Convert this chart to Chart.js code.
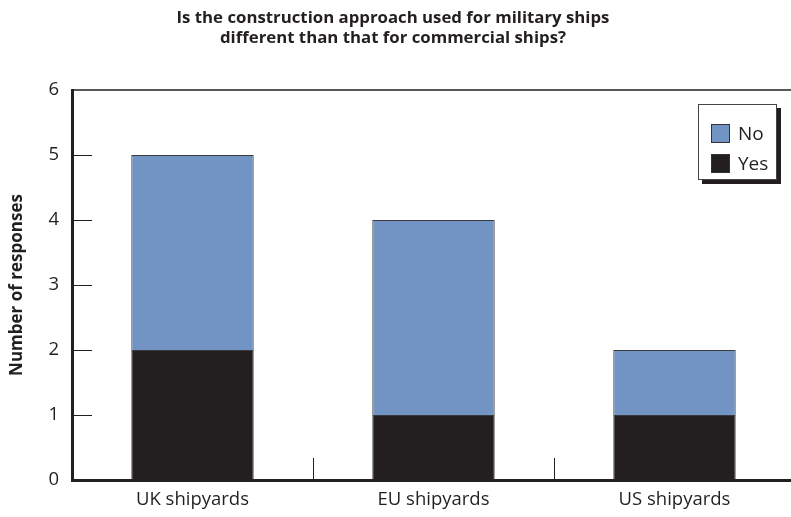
<!DOCTYPE html>
<html>
<head>
<meta charset="utf-8">
<script src="https://cdn.jsdelivr.net/npm/chart.js@4.4.1/dist/chart.umd.min.js"></script>
<style>
  html, body { margin: 0; padding: 0; background: #fff; overflow: hidden; }
  #wrap { position: relative; width: 800px; height: 517px; }
  #title {
    position: absolute; left: 0; top: 7px; width: 786px; text-align: center;
    font-family: "Open Sans", "Noto Sans", sans-serif; font-weight: bold; font-size: 16.8px;
    line-height: 20px; color: #231f20;
  }
  #legendBox {
    position: absolute; left: 698px; top: 104px; width: 79px; height: 76px;
    border: 1px solid #444; background: #fff; box-shadow: 4px 4px 0 #231f20;
    font-family: "Open Sans", "Noto Sans", sans-serif; font-size: 19px; color: #231f20;
    box-sizing: border-box; padding-top: 13px;
  }
  .lg-item { display: flex; align-items: center; height: 30px; padding-left: 12px; }
  .lg-swatch { width: 19px; height: 19px; box-sizing: border-box; border: 1px solid #333; margin-right: 8px; }
</style>
</head>
<body>
<div id="wrap">
  <canvas id="chart" width="800" height="517"></canvas>
  <div id="title">Is the construction approach used for military ships<br>different than that for commercial ships?</div>
  <div id="legendBox"></div>
</div>
<script>
// 資料
const categories = ['UK shipyards', 'EU shipyards', 'US shipyards'];
const yesValues = [2, 1, 1];
const noValues = [3, 3, 1];
const yTicks = [0, 1, 2, 3, 4, 5, 6];

const blueColor = '#7194c4';
const darkColor = '#231f20';
const fontFam = '"Open Sans", "Noto Sans", sans-serif';

// 內側刻度與頂部框線
const innerTicks = {
    id: 'innerTicks',
    afterDatasetsDraw(chart) {
        const { ctx, chartArea, scales } = chart;
        ctx.save();
        ctx.strokeStyle = darkColor;
        // top border
        ctx.lineWidth = 1.5;
        ctx.beginPath();
        ctx.moveTo(chartArea.left, chartArea.top);
        ctx.lineTo(chart.width, chartArea.top);
        ctx.stroke();
        // y ticks inside
        ctx.lineWidth = 1;
        yTicks.forEach(v => {
            if (v === 0 || v === 6) return;
            const y = Math.round(scales.y.getPixelForValue(v)) + 0.5;
            ctx.beginPath();
            ctx.moveTo(chartArea.left, y);
            ctx.lineTo(chartArea.left + 20, y);
            ctx.stroke();
        });
        // category separators
        for (let i = 0; i < categories.length - 1; i++) {
            const x = Math.round((scales.x.getPixelForValue(i) + scales.x.getPixelForValue(i + 1)) / 2) + 0.5;
            ctx.beginPath();
            ctx.moveTo(x, chartArea.bottom);
            ctx.lineTo(x, chartArea.bottom - 22);
            ctx.stroke();
        }
        ctx.restore();
    }
};

const ctx = document.getElementById('chart').getContext('2d');
const chart = new Chart(ctx, {
    type: 'bar',
    data: {
        labels: categories,
        datasets: [
            { label: 'Yes', data: yesValues, backgroundColor: darkColor, borderColor: '#3a3a3a', borderWidth: 1 },
            { label: 'No', data: noValues, backgroundColor: blueColor, borderColor: '#3a3a3a', borderWidth: 1 }
        ]
    },
    options: {
        responsive: false,
        animation: false,
        layout: { padding: { left: 0, right: 5, top: 90, bottom: 0 } },
        datasets: { bar: { barPercentage: 0.508, categoryPercentage: 1 } },
        scales: {
            x: {
                stacked: true,
                offset: true,
                grid: { display: false, drawTicks: false },
                border: { display: true, color: darkColor, width: 3 },
                ticks: { color: darkColor, font: { family: fontFam, size: 18.5 }, padding: 9 },
                afterFit: s => { s.height = 37; }
            },
            y: {
                stacked: true,
                min: 0, max: 6,
                grid: { display: false, drawTicks: false },
                border: { display: true, color: darkColor, width: 3 },
                ticks: { stepSize: 1, color: darkColor, font: { family: fontFam, size: 18.5 }, padding: 13 },
                title: { display: true, text: 'Number of responses', color: darkColor,
                         font: { family: fontFam, size: 17, weight: 'bold' }, padding: { top: 7, bottom: 0 } },
                afterFit: s => { s.width = 72; }
            }
        },
        plugins: {
            legend: { display: false },
            tooltip: { enabled: false },
            title: { display: false }
        }
    },
    plugins: [innerTicks]
});

// 圖例（No 在上）
const legendBox = document.getElementById('legendBox');
legendBox.innerHTML = chart.data.datasets.slice().reverse().map(ds =>
    `<div class="lg-item"><div class="lg-swatch" style="background:${ds.backgroundColor}"></div>${ds.label}</div>`
).join('');
</script>
</body>
</html>
